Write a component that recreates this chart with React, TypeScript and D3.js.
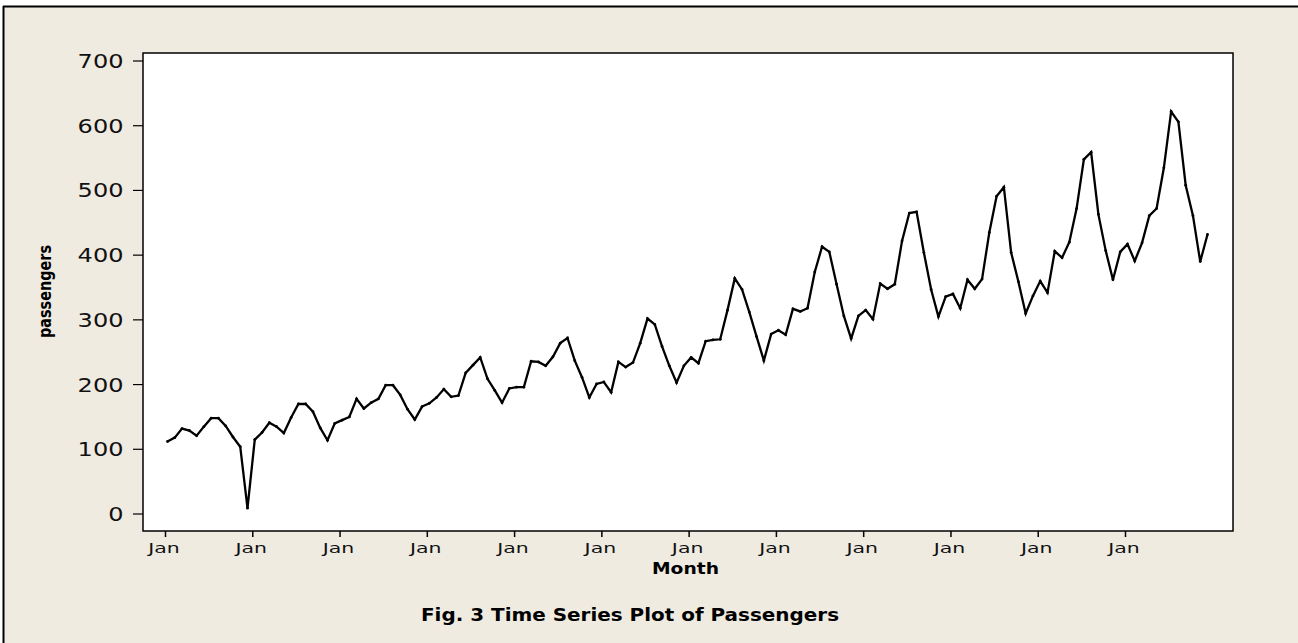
import React from "react";
import * as d3 from "d3";

const years = [1949, 1950, 1951, 1952, 1953, 1954, 1955, 1956, 1957, 1958, 1959, 1960];
const passengers = [
  112, 118, 132, 129, 121, 135, 148, 148, 136, 119, 104, 9,
  115, 126, 141, 135, 125, 149, 170, 170, 158, 133, 114, 140,
  145, 150, 178, 163, 172, 178, 199, 199, 184, 162, 146, 166,
  171, 180, 193, 181, 183, 218, 230, 242, 209, 191, 172, 194,
  196, 196, 236, 235, 229, 243, 264, 272, 237, 211, 180, 201,
  204, 188, 235, 227, 234, 264, 302, 293, 259, 229, 203, 229,
  242, 233, 267, 269, 270, 315, 364, 347, 312, 274, 237, 278,
  284, 277, 317, 313, 318, 374, 413, 405, 355, 306, 271, 306,
  315, 301, 356, 348, 355, 422, 465, 467, 404, 347, 305, 336,
  340, 318, 362, 348, 363, 435, 491, 505, 404, 359, 310, 337,
  360, 342, 406, 396, 420, 472, 548, 559, 463, 407, 362, 405,
  417, 391, 419, 461, 472, 535, 622, 606, 508, 461, 390, 432,
];
const yTicks = [0, 100, 200, 300, 400, 500, 600, 700];
const xTickLabel = "Jan";

const W = 1298;
const H = 643;
const plot = { left: 143, top: 53, right: 1233, bottom: 531 };

export default function App() {
  const x = d3.scaleLinear().domain([0, passengers.length - 1]).range([167.5, 1207.5]);
  const y = d3.scaleLinear().domain([0, 700]).range([514, 61]);
  const line = d3
    .line<number>()
    .x((_, i) => x(i))
    .y((d) => y(d));
  const janIdx = years.map((_, i) => i * 12);

  return (
    <svg
      width={W}
      height={H}
      style={{ position: "absolute", left: 0, top: 0, background: "#fff" }}
      fontFamily="DejaVu Sans, Verdana, sans-serif"
    >
      <rect x={3} y={6} width={W} height={H} fill="#EFEBE1" />
      <line x1={3} y1={6.5} x2={W} y2={6.5} stroke="#000" strokeWidth={2} />
      <line x1={3.5} y1={6} x2={3.5} y2={H} stroke="#000" strokeWidth={2} />

      <rect
        x={plot.left}
        y={plot.top}
        width={plot.right - plot.left}
        height={plot.bottom - plot.top}
        fill="#fff"
        stroke="#000"
        strokeWidth={1.5}
      />

      {yTicks.map((t) => (
        <g key={t}>
          <line x1={133} x2={plot.left} y1={y(t)} y2={y(t)} stroke="#000" strokeWidth={1.2} />
          <text
            x={123.5}
            y={y(t) + 7}
            textAnchor="end"
            fontSize={19.5}
            fill="#111"
            textLength={String(t).length * 15.3}
            lengthAdjust="spacingAndGlyphs"
          >
            {t}
          </text>
        </g>
      ))}

      {janIdx.map((i) => (
        <g key={i}>
          <line x1={x(i) - 2} x2={x(i) - 2} y1={plot.bottom} y2={537} stroke="#000" strokeWidth={1.5} />
          <text
            x={x(i) - 3.5}
            y={553}
            textAnchor="middle"
            fontSize={13.5}
            fill="#111"
            textLength={31.5}
            lengthAdjust="spacingAndGlyphs"
          >
            {xTickLabel}
          </text>
        </g>
      ))}

      <path d={line(passengers) || ""} fill="none" stroke="#000" strokeWidth={2.3} strokeLinejoin="miter" />
      {passengers.map((v, i) => (
        <circle key={i} cx={x(i)} cy={y(v)} r={1.4} fill="#000" />
      ))}

      <text
        x={685.5}
        y={574.3}
        textAnchor="middle"
        fontSize={16}
        fontWeight="bold"
        fill="#000"
        textLength={67}
        lengthAdjust="spacingAndGlyphs"
      >
        Month
      </text>
      <text
        transform="translate(51,291.5) rotate(-90)"
        textAnchor="middle"
        fontSize={17}
        fontWeight="bold"
        fill="#000"
        textLength={93}
        lengthAdjust="spacingAndGlyphs"
      >
        passengers
      </text>
      <text
        x={630}
        y={621}
        textAnchor="middle"
        fontSize={18}
        fontWeight="bold"
        fill="#000"
        textLength={418}
        lengthAdjust="spacingAndGlyphs"
      >
        Fig. 3 Time Series Plot of Passengers
      </text>
    </svg>
  );
}
